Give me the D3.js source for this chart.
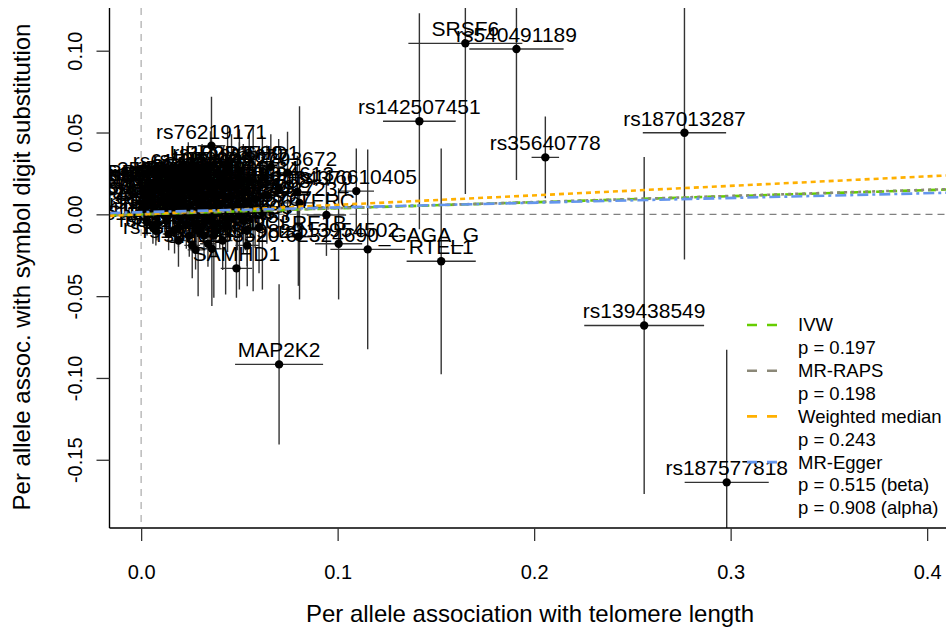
<!DOCTYPE html>
<html>
<head>
<meta charset="utf-8">
<script src="https://cdn.jsdelivr.net/npm/d3@7"></script>
<style>
  html, body { margin: 0; padding: 0; background: #fff; }
  svg { display: block; font-family: "Liberation Sans", Arial, sans-serif; }
</style>
</head>
<body>
<svg id="chart" width="946" height="631"></svg>
<script>
// ---------------- DATA ----------------
const snpLabels = [
  "SRSF6","rs540491189","rs142507451","rs35640778","rs187013287","rs139438549","rs187577818",
  "MAP2K2","RTEL1","20:62324690_GAGA_G","rs113954502","TERC","rs116610405","SAMHD1","rs76219171",
  "PRRC2A","UBE2D2","SHQ1","rs2293672","NAF1","rs12034370","rs7705526","TERT","OBFC1","ACYP2",
  "ZNF208","CTC1","PXK","DHX35","MPHOSPH6","rs7675998","SMG6","BCL2L1","ATM","rs10936600",
  "rs2736100","rs9419958","SMG1","rs1317082","rs3219104","POT1","TINF2","TERF1","TERF2","ACD",
  "rs6772228","rs4691895","PARN","rs7194734","rs8105767","rs3027234","WRAP53","CHEK2","NKX2-3",
  "rs2302588","PNKP","SENP7","rs59294613","rs12696304","LRRC34","rs10857352","ZBTB46","rs74019828",
  "rs11125529","MYNN","rs2853677","CXCR4","RFWD3","rs412658","DKC1","rs2967374","PAPSS1","STN1",
  "rs8032158","DCLRE1B",
  "rs1048440","rs2297128","rs11191865","rs6028466","rs2242652","rs9257445","rs7776744","rs3785074",
  "rs1975174","rs228595","rs6560443","rs4387287","rs10466239","rs17653722","rs2124616","rs4902100",
  "rs6566935","rs7254128","rs1887594","rs730899","rs11787341","rs12615793","rs1800407","rs10888287",
  "rs3131064","rs8047286","rs34978822","rs2735940","rs6445387","rs12637184","rs1058093","rs7403531",
  "rs2301721","rs9471916","rs6698133","rs2188972","rs874628","rs3758719","rs1570527","rs55749605",
  "rs35519604","rs61748181","rs10936599","rs13137667","rs62123352","rs1317083"
];
const snpBx = [
  0.165, 0.191, 0.1416, 0.2057, 0.2765, 0.256, 0.298,
  0.0702, 0.1527, 0.1153, 0.1005, 0.0943, 0.1095, 0.0485, 0.0358,
  0.0045, 0.0353, 0.066, 0.0745, 0.058, 0.0795, 0.040, 0.030, 0.025, 0.015,
  0.006, 0.020, 0.012, 0.045, 0.028, 0.052, 0.018, 0.033, 0.010, 0.008,
  0.022, 0.038, 0.0277, 0.002, 0.014, 0.016, 0.042, 0.048, 0.036, 0.024,
  0.011, 0.005, 0.032, 0.055, 0.0617, 0.0806, 0.054, 0.0125, 0.019,
  0.027, 0.044, 0.060, 0.070, 0.009, 0.003, 0.017, 0.039, 0.054,
  0.0245, 0.0075, 0.050, 0.029, 0.013, 0.064, 0.034, 0.0215, 0.001, 0.0415,
  0.0065, 0.080,
  0.004, 0.007, 0.010, 0.013, 0.016, 0.018, 0.021, 0.023,
  0.026, 0.028, 0.031, 0.033, 0.035, 0.037, 0.040, 0.043,
  0.046, 0.049, 0.052, 0.057, 0.003, 0.006, 0.009, 0.012,
  0.015, 0.017, 0.020, 0.023, 0.026, 0.029, 0.031, 0.034,
  0.037, 0.040, 0.043, 0.046, 0.050, 0.053, 0.001, 0.002,
  0.007, 0.024, 0.044, 0.019, 0.036, 0.026
];
const snpBy = [
  0.1045, 0.101, 0.0569, 0.0348, 0.0499, -0.0679, -0.1638,
  -0.0917, -0.0287, -0.0214, -0.018, -0.0004, 0.0142, -0.033, 0.0419,
  0.0175, 0.0288, 0.029, 0.0255, 0.0095, 0.0138, 0.012, 0.008, 0.015, 0.010,
  0.005, -0.002, 0.0025, 0.004, -0.006, -0.004, 0.019, 0.018, 0.014, -0.006,
  0.021, -0.010, -0.0217, 0.012, -0.012, 0.020, 0.024, 0.016, 0.002, 0.004,
  0.017, 0.009, -0.013, 0.020, 0.001, 0.007, -0.0096, 0.006, -0.008,
  0.012, -0.003, -0.008, 0.016, 0.016, 0.0005, 0.005, 0.007, -0.019,
  -0.013, -0.010, 0.027, 0.022, -0.004, 0.012, -0.018, 0.016, 0.004, -0.016,
  0.016, -0.0137,
  0.013, 0.002, 0.008, 0.016, 0.001, 0.011, 0.006, 0.019,
  0.000, 0.010, 0.003, 0.012, -0.004, 0.015, 0.001, 0.010,
  0.019, 0.006, 0.013, 0.003, -0.005, -0.008, 0.017, -0.001,
  0.018, -0.010, 0.013, -0.006, 0.021, -0.010, 0.025, 0.006,
  -0.013, 0.020, -0.007, 0.011, -0.001, 0.008, 0.014, 0.008,
  0.019, 0.024, 0.029, -0.016, -0.021, -0.019
];
const snpXerr = [
  0.029, 0.024, 0.0185, 0.007, 0.0212, 0.0305, 0.0214,
  0.0224, 0.0176, 0.019, 0.012, 0.010, 0.009, 0.008, 0.007,
  0.004, 0.006, 0.007, 0.008, 0.006, 0.007, 0.005, 0.004, 0.004, 0.003,
  0.004, 0.004, 0.003, 0.005, 0.005, 0.006, 0.004, 0.004, 0.003, 0.003,
  0.004, 0.005, 0.004, 0.003, 0.003, 0.003, 0.005, 0.005, 0.004, 0.003,
  0.003, 0.003, 0.004, 0.006, 0.006, 0.008, 0.005, 0.003, 0.004,
  0.004, 0.005, 0.006, 0.007, 0.003, 0.003, 0.003, 0.004, 0.006,
  0.004, 0.003, 0.005, 0.004, 0.003, 0.006, 0.004, 0.003, 0.003, 0.005,
  0.003, 0.007,
  0.003, 0.003, 0.003, 0.003, 0.003, 0.004, 0.004, 0.004,
  0.004, 0.004, 0.004, 0.004, 0.004, 0.005, 0.005, 0.005,
  0.005, 0.005, 0.006, 0.006, 0.003, 0.003, 0.003, 0.003,
  0.003, 0.003, 0.004, 0.004, 0.004, 0.004, 0.004, 0.004,
  0.005, 0.005, 0.005, 0.005, 0.005, 0.006, 0.003, 0.003,
  0.003, 0.004, 0.005, 0.004, 0.005, 0.004
];
const snpYerr = [
  0.092, 0.080, 0.066, 0.025, 0.0775, 0.103, 0.081,
  0.049, 0.069, 0.061, 0.034, 0.025, 0.026, 0.018, 0.030,
  0.012, 0.022, 0.020, 0.025, 0.030, 0.022, 0.020, 0.012, 0.015, 0.012,
  0.010, 0.012, 0.010, 0.020, 0.014, 0.020, 0.013, 0.015, 0.012, 0.010,
  0.016, 0.016, 0.012, 0.009, 0.010, 0.014, 0.018, 0.016, 0.014, 0.012,
  0.012, 0.010, 0.014, 0.030, 0.047, 0.059, 0.022, 0.009, 0.012,
  0.018, 0.020, 0.028, 0.030, 0.011, 0.008, 0.011, 0.016, 0.025,
  0.013, 0.009, 0.025, 0.016, 0.010, 0.030, 0.014, 0.013, 0.008, 0.018,
  0.012, 0.030,
  0.010, 0.009, 0.010, 0.012, 0.012, 0.014, 0.013, 0.015,
  0.014, 0.016, 0.016, 0.017, 0.018, 0.020, 0.022, 0.024,
  0.030, 0.028, 0.030, 0.050, 0.008, 0.010, 0.011, 0.010,
  0.013, 0.014, 0.012, 0.015, 0.016, 0.040, 0.018, 0.014,
  0.038, 0.018, 0.042, 0.020, 0.045, 0.030, 0.008, 0.008,
  0.012, 0.020, 0.025, 0.016, 0.035, 0.020
];

const methodNames = ["IVW", "MR-RAPS", "Weighted median", "MR-Egger"];
const methodSlopes = [0.0370, 0.0375, 0.058, 0.029];
const methodIntercepts = [0, 0, 0, 0.0013];
const methodColors = ["#66CD00", "#8B8878", "#FFB000", "#6495ED"];
const methodDashes = ["8,5", "3,4", "5,4", "11,4,3,4"];

const legendLabels = ["IVW", "p = 0.197", "MR-RAPS", "p = 0.198", "Weighted median", "p = 0.243",
                      "MR-Egger", "p = 0.515 (beta)", "p = 0.908 (alpha)"];
const legendKey = [0, null, 1, null, 2, null, 3, null, null];

const xTicks = [0, 0.1, 0.2, 0.3, 0.4];
const xTickLabels = ["0.0", "0.1", "0.2", "0.3", "0.4"];
const yTicks = [-0.15, -0.10, -0.05, 0.00, 0.05, 0.10];
const yTickLabels = ["-0.15", "-0.10", "-0.05", "0.00", "0.05", "0.10"];

const xTitle = "Per allele association with telomere length";
const yTitle = "Per allele assoc. with symbol digit substitution";

// ---------------- LAYOUT ----------------
const svg = d3.select("#chart");
const L = 109.5, R = 946, T = 8, B = 528;
const x = d3.scaleLinear().domain([-0.0161, 0.4096]).range([L, R]);
const y = d3.scaleLinear().domain([-0.1917, 0.1261]).range([B, T]);

svg.append("defs").append("clipPath").attr("id", "plotclip")
  .append("rect").attr("x", L).attr("y", T).attr("width", R - L).attr("height", B - T);

const plot = svg.append("g").attr("clip-path", "url(#plotclip)");

// reference lines at zero
plot.append("line")
  .attr("x1", x(0)).attr("x2", x(0)).attr("y1", T).attr("y2", B)
  .attr("stroke", "#b0b0b0").attr("stroke-width", 1.3).attr("stroke-dasharray", "7,6");
plot.append("line")
  .attr("x1", L).attr("x2", R).attr("y1", y(0)).attr("y2", y(0))
  .attr("stroke", "#808080").attr("stroke-width", 1.1).attr("stroke-dasharray", "7,5");

const pts = snpLabels.map((lab, i) => ({
  lab, bx: snpBx[i], by: snpBy[i], xe: snpXerr[i], ye: snpYerr[i]
}));

// error bars
const eb = plot.append("g").attr("stroke", "#333").attr("stroke-width", 1.4);
pts.forEach(d => {
  eb.append("line")
    .attr("x1", x(d.bx - d.xe)).attr("x2", x(d.bx + d.xe))
    .attr("y1", y(d.by)).attr("y2", y(d.by));
  eb.append("line")
    .attr("x1", x(d.bx)).attr("x2", x(d.bx))
    .attr("y1", y(d.by - d.ye)).attr("y2", y(d.by + d.ye));
});

// points
plot.append("g").selectAll("circle").data(pts).join("circle")
  .attr("cx", d => x(d.bx)).attr("cy", d => y(d.by)).attr("r", 4.2)
  .attr("fill", "#000");

// labels
plot.append("g").selectAll("text").data(pts).join("text")
  .attr("x", d => x(d.bx)).attr("y", d => y(d.by) - 7)
  .attr("text-anchor", "middle").attr("font-size", 21).attr("fill", "#000")
  .text(d => d.lab);

// method lines
const xd = x.domain();
methodNames.forEach((m, i) => {
  plot.append("line")
    .attr("x1", x(xd[0])).attr("y1", y(methodIntercepts[i] + methodSlopes[i] * xd[0]))
    .attr("x2", x(xd[1])).attr("y2", y(methodIntercepts[i] + methodSlopes[i] * xd[1]))
    .attr("stroke", methodColors[i]).attr("stroke-width", 2.6)
    .attr("stroke-dasharray", methodDashes[i]);
});

// axes
const axG = svg.append("g").attr("stroke", "#000").attr("stroke-width", 1.4);
axG.append("line").attr("x1", L).attr("x2", L).attr("y1", T).attr("y2", B);
axG.append("line").attr("x1", L).attr("x2", R).attr("y1", B).attr("y2", B);

const xAxis = d3.axisBottom(x).tickValues(xTicks).tickFormat((d, i) => xTickLabels[i])
  .tickSizeOuter(0).tickSizeInner(13).tickPadding(24);
const gx = svg.append("g").attr("transform", `translate(0,${B})`).call(xAxis);
gx.select(".domain").remove();
gx.selectAll(".tick line").attr("stroke", "#333").attr("stroke-width", 1.3);
gx.selectAll(".tick text").attr("font-size", 20).attr("fill", "#000")
  .attr("font-family", "'Liberation Sans', Arial, sans-serif");

const yAxis = d3.axisLeft(y).tickValues(yTicks).tickFormat((d, i) => yTickLabels[i])
  .tickSizeOuter(0).tickSizeInner(13);
const gy = svg.append("g").attr("transform", `translate(${L},0)`).call(yAxis);
gy.select(".domain").remove();
gy.selectAll(".tick line").attr("stroke", "#333").attr("stroke-width", 1.3);
gy.selectAll(".tick text").remove();
gy.selectAll(".tick").append("text")
  .attr("transform", "translate(-35,0) rotate(-90)")
  .attr("text-anchor", "middle").attr("dy", "0.35em")
  .attr("font-size", 20).attr("fill", "#000")
  .attr("font-family", "'Liberation Sans', Arial, sans-serif")
  .text((d, i) => yTickLabels[i]);

// axis titles
svg.append("text").attr("x", 530).attr("y", 622)
  .attr("text-anchor", "middle").attr("font-size", 24).attr("fill", "#000")
  .text(xTitle);
svg.append("text").attr("transform", `translate(30,${267}) rotate(-90)`)
  .attr("text-anchor", "middle").attr("font-size", 24).attr("fill", "#000")
  .text(yTitle);

// legend
const lg = svg.append("g");
const lgX0 = 747, lgX1 = 778, lgTextX = 798, lgY0 = 325, lgStep = 22.85;
legendLabels.forEach((t, i) => {
  const yy = lgY0 + i * lgStep;
  if (legendKey[i] !== null) {
    lg.append("line").attr("x1", lgX0).attr("x2", lgX1).attr("y1", yy).attr("y2", yy)
      .attr("stroke", methodColors[legendKey[i]]).attr("stroke-width", 2.6)
      .attr("stroke-dasharray", "10,10");
  }
  lg.append("text").attr("x", lgTextX).attr("y", yy).attr("dy", "0.35em")
    .attr("font-size", 18.5).attr("fill", "#000").text(t);
});
</script>
</body>
</html>
